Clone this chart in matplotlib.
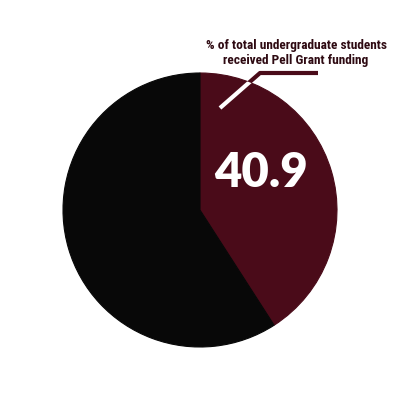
import matplotlib.pyplot as plt

values = [40.9, 59.1]
colors = ['#4a0b19', '#080808']
label_value = '40.9'
caption = '% of total undergraduate students\nreceived Pell Grant funding'

fig = plt.figure(figsize=(4, 4), dpi=100)
ax = fig.add_axes([0, 0, 1, 1])

# pie in pixel-like coords (y measured from bottom)
wedges, _ = ax.pie(values, colors=colors, startangle=90, counterclock=False,
                   center=(200, 190), radius=137, frame=True,
                   wedgeprops=dict(linewidth=0.8, edgecolor=colors[1]))
wedges[0].set_edgecolor(colors[0])
ax.set_xlim(0, 400)
ax.set_ylim(0, 400)
ax.set_aspect('equal')
ax.axis('off')

# leader line: maroon outside, white where it crosses the wedge
lx = [220, 260, 318]
ly = [400 - 108, 400 - 73, 400 - 73]
ax.plot(lx, ly, color=colors[0], lw=3, solid_capstyle='butt', zorder=3)
inner, = ax.plot(lx, ly, color='white', lw=3, solid_capstyle='butt', zorder=4)
inner.set_clip_path(wedges[0])

ax.text(296, 400 - 53, caption, ha='center', va='center', fontsize=9.6,
        fontweight='heavy', color='#2e0a12', linespacing=1.15,
        family=['Roboto Condensed', 'Liberation Sans Narrow', 'Roboto'])

ax.text(261, 400 - 173, label_value, ha='center', va='center', fontsize=34,
        fontweight='heavy', color='white', family=['Lato', 'DejaVu Sans'])

fig.savefig('out.png', dpi=100)
